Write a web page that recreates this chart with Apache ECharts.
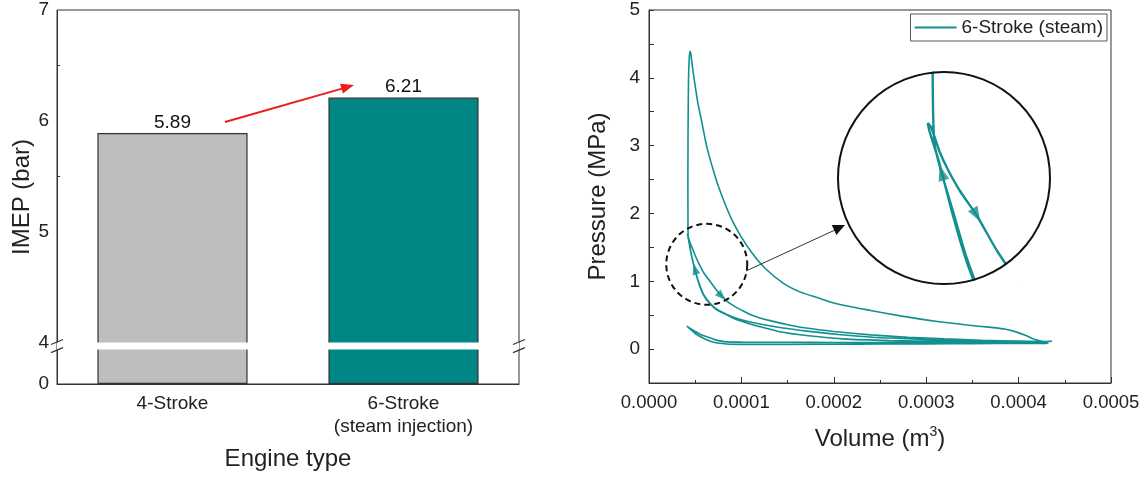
<!DOCTYPE html>
<html>
<head>
<meta charset="utf-8">
<script src="https://cdn.jsdelivr.net/npm/echarts@6.0.0/dist/echarts.min.js"></script>
<style>
  html, body { margin: 0; padding: 0; background: #fff; }
  #main { width: 1148px; height: 479px; }
</style>
</head>
<body>
<div id="main"></div>
<script>
// left: IMEP bar chart
let engineTypes = ['4-Stroke', '6-Stroke\n(steam injection)'];
let imepValues = [5.89, 6.21];
let barColors = ['#bebebe', '#008785'];
let imepTicks = [0, 4, 5, 6, 7];
let imepBreak = [0.31, 4];   // hidden part of the IMEP axis

// right: P-V cycle, volume in 1e-4 m3, pressure in MPa (in cycle order)
let volume = [
  // intake
  0.41, 0.45, 0.50, 0.59, 0.70, 0.84, 1.0, 1.5, 2.0, 2.5, 3.0, 3.5, 4.0, 4.30,
  // compression
  4.32, 4.1, 3.87, 3.5, 3.15, 2.8, 2.43, 2.05, 1.71, 1.45, 1.2, 1.05, 0.913, 0.80, 0.733, 0.68,
  0.625, 0.585, 0.553, 0.525, 0.498, 0.478, 0.462, 0.445, 0.432, 0.424,
  // combustion + expansion
  0.422, 0.421, 0.423, 0.428, 0.436, 0.444, 0.452, 0.465, 0.48, 0.50, 0.53, 0.571, 0.61, 0.643,
  0.70, 0.751, 0.82, 0.896, 1.0, 1.113, 1.25, 1.455, 1.64, 1.82, 2.0, 2.2, 2.4, 2.72, 3.1, 3.44,
  3.70, 3.85, 3.98, 4.08, 4.16, 4.24, 4.30, 4.36,
  // exhaust + recompression
  4.2, 3.8, 3.2, 2.6, 2.1, 1.7, 1.4, 1.2, 1.05, 0.913, 0.80, 0.733, 0.68, 0.625, 0.585, 0.553,
  0.525, 0.498, 0.478, 0.462, 0.445, 0.43, 0.418,
  // steam injection + expansion
  0.416, 0.42, 0.43, 0.44, 0.455, 0.475, 0.50, 0.54, 0.59, 0.665, 0.73, 0.787, 0.85, 0.913, 1.0,
  1.094, 1.2, 1.31, 1.5, 1.7, 2.0, 2.4, 2.8, 3.2, 3.6, 4.0, 4.31,
  // exhaust
  4.31, 4.0, 3.0, 2.0, 1.5, 1.2, 1.0, 0.84, 0.75, 0.70, 0.62, 0.553, 0.50, 0.45, 0.41
];
let pressure = [
  0.34, 0.29, 0.23, 0.16, 0.10, 0.075, 0.07, 0.07, 0.072, 0.075, 0.077, 0.08, 0.083, 0.085,
  0.09, 0.1, 0.112, 0.122, 0.135, 0.152, 0.175, 0.215, 0.265, 0.31, 0.37, 0.415, 0.47, 0.54, 0.59, 0.65,
  0.735, 0.82, 0.93, 1.04, 1.18, 1.28, 1.37, 1.49, 1.58, 1.65,
  1.8, 2.5, 3.3, 4.0, 4.3, 4.39, 4.36, 4.22, 4.06, 3.88, 3.62, 3.35, 3.08, 2.89,
  2.62, 2.40, 2.15, 1.91, 1.65, 1.42, 1.2, 0.97, 0.84, 0.76, 0.68, 0.62, 0.57, 0.49, 0.41, 0.355,
  0.32, 0.295, 0.25, 0.2, 0.15, 0.12, 0.11, 0.115,
  0.11, 0.108, 0.112, 0.125, 0.15, 0.2, 0.26, 0.33, 0.39, 0.455, 0.53, 0.58, 0.64, 0.725, 0.81, 0.915,
  1.03, 1.165, 1.27, 1.36, 1.48, 1.6, 1.68,
  1.70, 1.69, 1.63, 1.585, 1.53, 1.47, 1.38, 1.26, 1.13, 0.99, 0.87, 0.78, 0.70, 0.64, 0.575,
  0.51, 0.46, 0.42, 0.36, 0.31, 0.26, 0.21, 0.175, 0.15, 0.13, 0.118, 0.11,
  0.105, 0.1, 0.098, 0.098, 0.1, 0.1, 0.102, 0.107, 0.125, 0.145, 0.185, 0.22, 0.26, 0.30, 0.34
];
// direction arrows on the curve (main plot and zoomed circle)
let arrowVolume = [0.498, 0.787];
let arrowPressure = [1.18, 0.78];
let arrowRotate = [15, 225];
let insetArrowVolume = [0.433, 0.475];
let insetArrowPressure = [1.575, 1.47];
let insetArrowRotate = [16, 210];
let insetVolumeRange = [0.3073, 0.564];
let insetPressureRange = [1.2975, 1.8275];

let fontFamily = 'Liberation Sans, Arial, sans-serif';
let teal = '#11908f';
let ink = '#222';

let cycleData = volume.map((v, i) => [v * 1e-4, pressure[i]]);
let arrowData = arrowVolume.map((v, i) => ({ value: [v * 1e-4, arrowPressure[i]], symbolRotate: arrowRotate[i] }));
let insetArrowData = insetArrowVolume.map((v, i) => ({ value: [v * 1e-4, insetArrowPressure[i]], symbolRotate: insetArrowRotate[i] }));

let chart = echarts.init(document.getElementById('main'));

let option = {
  animation: false,
  textStyle: { fontFamily: fontFamily },
  grid: [
    { left: 57, right: 629, top: 10, bottom: 95, show: true, borderColor: '#333', borderWidth: 1, outerBoundsMode: 'none' },
    { left: 649, right: 37, top: 10, bottom: 96, show: true, borderColor: '#333', borderWidth: 1, outerBoundsMode: 'none' },
    { left: 838, top: 72, width: 212, height: 212, show: false, outerBoundsMode: 'none' }
  ],
  legend: {
    data: ['6-Stroke (steam)'],
    right: 41,
    top: 14,
    itemWidth: 42,
    itemHeight: 14,
    padding: [4, 4, 4, 3],
    borderColor: '#555',
    borderWidth: 1,
    itemStyle: { opacity: 0 },
    textStyle: { fontSize: 19, color: ink, fontFamily: fontFamily }
  },
  xAxis: [
    {
      gridIndex: 0,
      type: 'category',
      data: engineTypes,
      axisLine: { lineStyle: { color: '#333' } },
      axisTick: { alignWithLabel: true, inside: true, length: 6, lineStyle: { color: '#333' } },
      axisLabel: { fontSize: 19, color: ink, lineHeight: 23, margin: 8 },
      name: 'Engine type',
      nameLocation: 'middle',
      nameGap: 63,
      nameTextStyle: { fontSize: 24, color: ink }
    },
    {
      gridIndex: 1,
      type: 'value',
      min: 0,
      max: 0.0005,
      interval: 0.0001,
      splitLine: { show: false },
      axisLine: { onZero: false, lineStyle: { color: '#333' } },
      axisTick: { inside: true, length: 6, lineStyle: { color: '#333' } },
      minorTick: { show: true, splitNumber: 2, length: 3, lineStyle: { color: '#333' } },
      axisLabel: { fontSize: 18.5, color: ink, margin: 10, formatter: v => v.toFixed(4) },
      name: '{t|Volume (m}{s|3}{t|)}',
      nameLocation: 'middle',
      nameGap: 42,
      nameTextStyle: {
        rich: {
          t: { fontSize: 24, color: ink, lineHeight: 28, fontFamily: fontFamily },
          s: { fontSize: 14, color: ink, lineHeight: 28, verticalAlign: 'top', fontFamily: fontFamily }
        }
      }
    },
    { gridIndex: 2, type: 'value', min: insetVolumeRange[0] * 1e-4, max: insetVolumeRange[1] * 1e-4, show: false }
  ],
  yAxis: [
    {
      gridIndex: 0,
      type: 'value',
      min: 0,
      max: 7,
      interval: 1,
      breaks: [{ start: imepBreak[0], end: imepBreak[1], gap: '1.9%' }],
      breakArea: {
        show: true,
        itemStyle: { color: '#fff', borderWidth: 0, opacity: 1 },
        zigzagAmplitude: 0,
        zigzagZ: 100,
        expandOnClick: false
      },
      splitLine: { show: false },
      axisLine: { show: true, lineStyle: { color: '#333' } },
      axisTick: { inside: true, length: 6, lineStyle: { color: '#333' } },
      minorTick: { show: true, splitNumber: 2, length: 3, lineStyle: { color: '#333' } },
      axisLabel: {
        fontSize: 19, color: ink, margin: 8, hideOverlap: false,
        customValues: imepTicks
      },
      name: 'IMEP (bar)',
      nameLocation: 'middle',
      nameGap: 21,
      nameTextStyle: { fontSize: 24, color: ink }
    },
    {
      gridIndex: 1,
      type: 'value',
      min: -0.5,
      max: 5,
      interval: 0.5,
      splitLine: { show: false },
      axisLine: { onZero: false, lineStyle: { color: '#333' } },
      axisTick: { inside: true, length: 5, lineStyle: { color: '#333' } },
      axisLabel: { fontSize: 19, color: ink, margin: 9, formatter: v => (Number.isInteger(v) ? String(v) : '') },
      name: 'Pressure (MPa)',
      nameLocation: 'middle',
      nameGap: 39,
      nameTextStyle: { fontSize: 24, color: ink }
    },
    { gridIndex: 2, type: 'value', min: insetPressureRange[0], max: insetPressureRange[1], show: false }
  ],
  series: [
    {
      type: 'bar',
      xAxisIndex: 0,
      yAxisIndex: 0,
      barWidth: '65%',
      data: imepValues.map((v, i) => ({ value: v, itemStyle: { color: barColors[i] } })),
      itemStyle: { borderColor: '#333', borderWidth: 1.2 },
      label: { show: true, position: 'top', distance: 1, fontSize: 19, color: '#111' }
    },
    {
      name: '6-Stroke (steam)',
      type: 'line',
      xAxisIndex: 1,
      yAxisIndex: 1,
      data: cycleData,
      symbol: 'none',
      smooth: 0.2,
      color: teal,
      lineStyle: { color: teal, width: 1.6 }
    },
    {
      name: 'arrows',
      type: 'scatter',
      xAxisIndex: 1,
      yAxisIndex: 1,
      symbol: 'triangle',
      symbolSize: [8, 11],
      itemStyle: { color: teal },
      data: arrowData
    },
    {
      name: 'zoom',
      type: 'line',
      xAxisIndex: 2,
      yAxisIndex: 2,
      data: cycleData,
      symbol: 'none',
      smooth: 0.2,
      color: teal,
      lineStyle: { color: teal, width: 2.4 }
    },
    {
      name: 'zoom arrows',
      type: 'scatter',
      xAxisIndex: 2,
      yAxisIndex: 2,
      symbol: 'triangle',
      symbolSize: [11, 15],
      itemStyle: { color: teal },
      data: insetArrowData
    }
  ]
};
chart.setOption(option);

// annotations: break marks, red arrow, zoom circles
let yTop = chart.convertToPixel({ yAxisIndex: 0 }, imepBreak[1]);
let yBot = chart.convertToPixel({ yAxisIndex: 0 }, imepBreak[0]);
let slashes = [];
[57, 519].forEach(x => {
  slashes.push({ type: 'line', z: 120, shape: { x1: x - 6, y1: yTop + 2, x2: x + 6, y2: yTop - 3 }, style: { stroke: '#333', lineWidth: 1.2 } });
  slashes.push({ type: 'line', z: 120, shape: { x1: x - 6, y1: yBot + 3, x2: x + 6, y2: yBot - 2 }, style: { stroke: '#333', lineWidth: 1.2 } });
});

let dashCenter = chart.convertToPixel({ xAxisIndex: 1, yAxisIndex: 1 }, [0.625e-4, 1.25]);

chart.setOption({
  graphic: slashes.concat([
    // red arrow between the bars
    { type: 'line', z: 120, shape: { x1: 225, y1: 122, x2: 342, y2: 88.6 }, style: { stroke: '#ee1c1c', lineWidth: 2 } },
    { type: 'polygon', z: 120, shape: { points: [[354, 85], [342.9, 93.4], [340.1, 83.8]] }, style: { fill: '#ee1c1c' } },
    // dashed circle on the curve
    { type: 'circle', z: 120, shape: { cx: dashCenter[0], cy: dashCenter[1], r: 40.5 }, style: { fill: null, stroke: '#111', lineWidth: 2, lineDash: [6, 4] } },
    // white ring masks the zoom plot outside its circle
    { type: 'circle', z: 110, shape: { cx: 944, cy: 178, r: 120 }, style: { fill: null, stroke: '#fff', lineWidth: 26 } },
    { type: 'circle', z: 120, shape: { cx: 944, cy: 178, r: 106 }, style: { fill: null, stroke: '#111', lineWidth: 2 } },
    // pointer arrow
    { type: 'line', z: 130, shape: { x1: 746, y1: 271, x2: 835, y2: 230 }, style: { stroke: '#333', lineWidth: 1 } },
    { type: 'polygon', z: 130, shape: { points: [[845, 225], [836.4, 235.0], [831.8, 225.1]] }, style: { fill: '#111' } }
  ])
});
</script>
</body>
</html>
